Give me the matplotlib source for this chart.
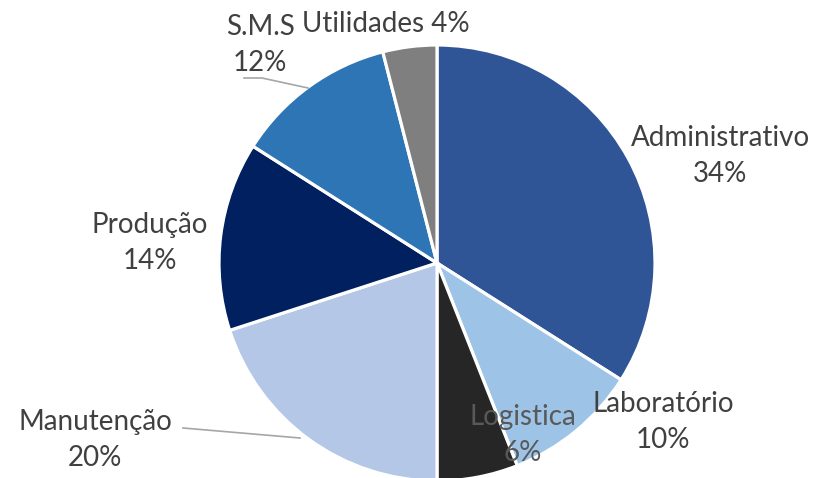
import matplotlib
matplotlib.use("Agg")
import matplotlib.pyplot as plt

# dados do gráfico
setores = ["Administrativo", "Laboratório", "Logistica", "Manutenção", "Produção", "S.M.S", "Utilidades"]
valores = [34, 10, 6, 20, 14, 12, 4]
cores = ["#2F5597", "#9DC3E6", "#262626", "#B4C7E7", "#002060", "#2E75B6", "#7F7F7F"]

W, H = 826, 478
fig = plt.figure(figsize=(W / 100, H / 100), dpi=100)
ax = fig.add_axes([0, 0, 1, 1])

cx, cy, r = 437, H - 263, 218
ax.pie(valores, colors=cores, startangle=90, counterclock=False,
       center=(cx, cy), radius=r, frame=True,
       wedgeprops=dict(edgecolor="white", linewidth=2.3))
ax.set_xlim(0, W)
ax.set_ylim(0, H)
ax.set_aspect("equal")
ax.axis("off")

# posições dos rótulos (pixels, y de cima para baixo)
pos_rotulos = {
    "Administrativo": (720, 156),
    "Laboratório": (663, 422),
    "Logistica": (523, 435),
    "Manutenção": (95, 440),
    "Produção": (150, 243),
    "S.M.S": (260, 45),
}
fonte = dict(fontsize=20, color="#404040", family=["Lato", "DejaVu Sans"])

for nome, v in zip(setores, valores):
    if nome == "Utilidades":
        continue
    x, y = pos_rotulos[nome]
    cor = "#595959" if nome == "Logistica" else "#404040"
    ax.text(x, H - y, f"{nome}\n{v}%", ha="center", va="center",
            linespacing=1.45, **{**fonte, "color": cor})

ax.text(386, H - 24, f"{setores[6]} {valores[6]}%", ha="center", va="center", **fonte)

# linhas de chamada
ax.plot([183, 300], [H - 428, H - 438], color="#A6A6A6", lw=1.2)
ax.plot([244, 262, 308], [H - 78, H - 78, H - 88], color="#A6A6A6", lw=1.2)

fig.savefig("out.png", dpi=100)
